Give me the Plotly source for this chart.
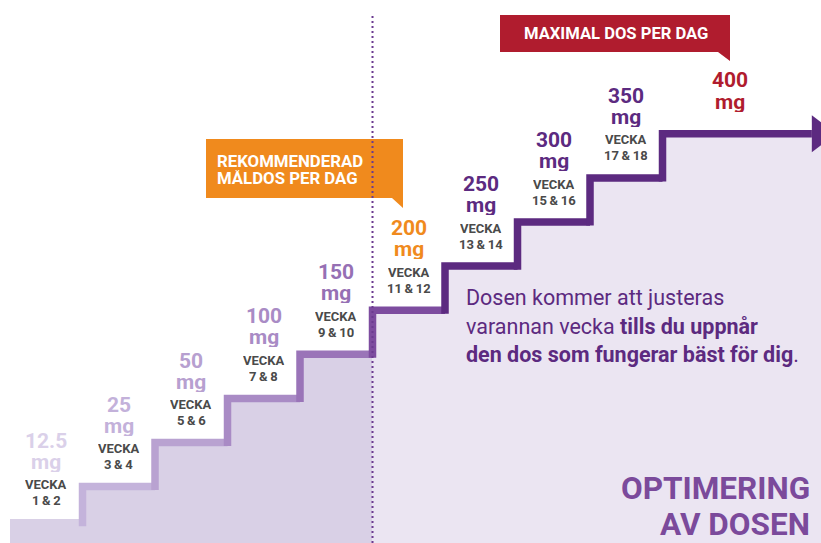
import plotly.graph_objects as go

# ---------------- data ----------------
doses = [12.5, 25, 50, 100, 150, 200, 250, 300, 350, 400]
dose_labels = ["12.5", "25", "50", "100", "150", "200", "250", "300", "350", "400"]
week_labels = ["1\u2009&\u20092", "3\u2009&\u20094", "5\u2009&\u20096", "7\u2009&\u20098",
               "9\u2009&\u200910", "11\u2009&\u200912", "13\u2009&\u200914",
               "15\u2009&\u200916", "17\u2009&\u200918", ""]
dose_colors = ["#dad0e9", "#c3b1da", "#b7a0d0", "#a98bc5", "#9670b4",
               "#f08a1d", "#5c2a80", "#5c2a80", "#5c2a80", "#b01c2e"]
line_colors = ["#d9d0e6", "#c4b3db", "#b9a2d1", "#a98bc5", "#9a74b8",
               "#7d4c9f", "#5c2a80", "#5c2a80", "#5c2a80", "#5c2a80"]
recommended_step = 5      # 200 mg (index)
body_lines = [
    "Dosen kommer att justeras",
    "varannan vecka <b>tills du uppnår</b>",
    "<b>den dos som fungerar bäst för dig</b>.",
]
title_lines = ["OPTIMERING", "AV DOSEN"]
callout_orange = ["REKOMMENDERAD", "MÅLDOS PER DAG"]
callout_red = "MAXIMAL DOS PER DAG"

# ---------------- layout constants ----------------
W, H = 821, 543
FONT = "Roboto"
PURPLE = "#5c2a80"
n = len(doses)
FIRST_RISE = 0.82          # the first step is drawn a little lower than the others
levels = [float(i + 1) for i in range(n)]
levels[0] = levels[1] - FIRST_RISE
X_MIN, X_MAX = -0.138, 11.186
Y_MIN, Y_MAX = 0.721, 13.034
ARROW_BASE = 11.06
ARROW_CENTER = 11.17


def px(x):
    return x / W


def py(y):
    return 1 - y / H


fig = go.Figure()

# fills under the staircase
k = recommended_step
fig.add_trace(go.Scatter(
    x=list(range(0, k + 1)), y=levels[:k] + [levels[k - 1]],
    mode="lines", line=dict(width=0, shape="hv"), fill="tozeroy",
    fillcolor="#d9d0e6", hoverinfo="skip", showlegend=False))
fig.add_trace(go.Scatter(
    x=list(range(k, n)) + [X_MAX + 0.5], y=levels[k:] + [levels[-1]],
    mode="lines", line=dict(width=0, shape="hv"), fill="tozeroy",
    fillcolor="#ebe5f2", hoverinfo="skip", showlegend=False))

# staircase line segments
for i in range(n):
    end = i + 1 if i < n - 1 else ARROW_BASE
    if i == 0:
        xs, ys = [0, end], [levels[0], levels[0]]
    else:
        xs, ys = [i, i, end], [levels[i - 1] - 0.08, levels[i], levels[i]]
    fig.add_trace(go.Scatter(
        x=xs, y=ys, mode="lines",
        line=dict(color=line_colors[i], width=7.5),
        hoverinfo="skip", showlegend=False))

# arrow head
fig.add_trace(go.Scatter(
    x=[ARROW_CENTER], y=[levels[-1]], mode="markers",
    marker=dict(symbol="triangle-right", size=32, color=PURPLE, line=dict(width=0)),
    hoverinfo="skip", showlegend=False, cliponaxis=True))

ann = []


def label(x, y, text, shift, size, color, box_h):
    ann.append(dict(
        x=x, y=y, xref="x", yref="y", text=f"<b>{text}</b>",
        showarrow=False, xanchor="center", yanchor="middle", yshift=shift,
        height=box_h, borderpad=0,
        font=dict(family=FONT, size=size, color=color)))


for i in range(n):
    xc = i + 0.5 if i < n - 1 else 9.93
    if week_labels[i]:
        label(xc, levels[i], dose_labels[i], 82, 21, dose_colors[i], 20)
        label(xc, levels[i], "mg", 61, 21, dose_colors[i], 20)
        label(xc, levels[i], "VECKA", 38, 13, "#4a4a4a", 15)
        label(xc, levels[i], week_labels[i], 22, 13, "#4a4a4a", 15)
    else:
        label(xc, levels[i], dose_labels[i], 54, 21, dose_colors[i], 20)
        label(xc, levels[i], "mg", 32, 21, dose_colors[i], 20)

# body text
for j, (t, yy) in enumerate(zip(body_lines, [297, 326, 354])):
    ann.append(dict(x=px(464), y=py(yy), xref="paper", yref="paper", text=t,
                    showarrow=False, xanchor="left", yanchor="middle",
                    font=dict(family=FONT, size=21.5, color=PURPLE)))

# title
for t, yy in zip(title_lines, [488, 524]):
    ann.append(dict(x=px(812), y=py(yy), xref="paper", yref="paper", text=f"<b>{t}</b>",
                    showarrow=False, xanchor="right", yanchor="middle",
                    font=dict(family=FONT, size=31.5, color="#7b4a9b")))

# callouts
shapes = []
ORANGE, RED = "#f08a1d", "#b01c2e"
shapes.append(dict(type="path", xref="paper", yref="paper", layer="above",
                   path=f"M{px(206)},{py(139)} L{px(403)},{py(139)} L{px(403)},{py(208)} "
                        f"L{px(392)},{py(198)} L{px(206)},{py(198)} Z",
                   fillcolor=ORANGE, line=dict(width=0)))
shapes.append(dict(type="path", xref="paper", yref="paper", layer="above",
                   path=f"M{px(500)},{py(15)} L{px(730)},{py(15)} L{px(730)},{py(61)} "
                        f"L{px(718)},{py(52)} L{px(500)},{py(52)} Z",
                   fillcolor=RED, line=dict(width=0)))
for t, yy in zip(callout_orange, [161, 178]):
    ann.append(dict(x=px(216), y=py(yy), xref="paper", yref="paper", text=f"<b>{t}</b>",
                    showarrow=False, xanchor="left", yanchor="middle",
                    height=16.5, borderpad=0,
                    font=dict(family=FONT, size=16.8, color="white")))
ann.append(dict(x=px(616), y=py(33.5), xref="paper", yref="paper", text=f"<b>{callout_red}</b>",
                showarrow=False, xanchor="center", yanchor="middle",
                font=dict(family=FONT, size=16.6, color="white")))

# dotted divider
shapes.append(dict(type="line", xref="x", yref="paper", x0=recommended_step, x1=recommended_step,
                   y0=0, y1=py(13), layer="above",
                   line=dict(color="#6b3a90", width=2, dash="2px,3px")))

fig.update_layout(
    width=W, height=H, margin=dict(l=0, r=0, t=0, b=0),
    paper_bgcolor="white", plot_bgcolor="white",
    xaxis=dict(range=[X_MIN, X_MAX], visible=False, fixedrange=True),
    yaxis=dict(range=[Y_MIN, Y_MAX], visible=False, fixedrange=True),
    annotations=ann, shapes=shapes, showlegend=False,
)
fig.write_html(
    "out.html",
    config={"displayModeBar": False},
    post_script="document.body.style.margin='0px';document.body.style.padding='0px';"
                "document.body.style.overflow='hidden';",
)
